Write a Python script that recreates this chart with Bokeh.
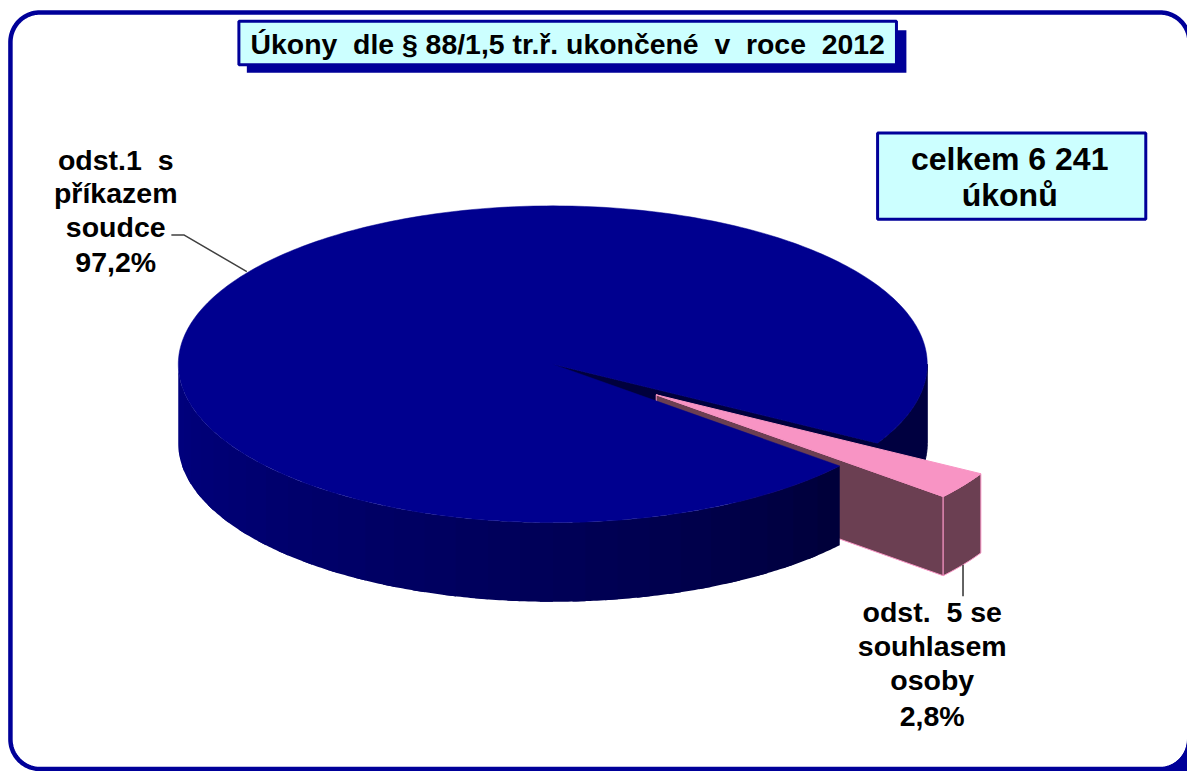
import numpy as np
from bokeh.plotting import figure
from bokeh.models import Range1d
from bokeh.core.properties import value
from bokeh.embed import file_html
from bokeh.resources import INLINE

# data
categories = ["odst.1 s příkazem soudce", "odst. 5 se souhlasem osoby"]
shares = [97.2, 2.8]
label_1 = ["odst.1 \u00a0s", "příkazem", "soudce", "97,2%"]
label_2 = ["odst. \u00a05 se", "souhlasem", "osoby", "2,8%"]
title_text = "Úkony \u00a0dle § 88/1,5 tr.ř. ukončené \u00a0v \u00a0roce \u00a02012"
total_lines = ["celkem 6 241", "úkonů"]

# layout / style
CX, CY, RX, RY, DEPTH = 556, 367.5, 377, 160, 80
START = 29.9          # small slice starts this many degrees clockwise from east
EXPLODE = 0.337
NAVY, TOP, BOX = "#000099", "#00008f", "#ccffff"
PINK, PINK_DARK, FONT = "#f894c4", "#6b3f52", "Liberation Sans"

p = figure(width=1187, height=771, output_backend="svg", toolbar_location=None,
           x_range=Range1d(0, 1195), y_range=Range1d(779, 0),
           x_axis_location=None, y_axis_location=None, min_border=0,
           outline_line_color=None, background_fill_color="white", border_fill_color="white")
p.grid.visible = False


def arc(a0, a1, ox=0.0, oy=0.0, n=None):
    n = n or max(2, int(abs(a1 - a0) * 2))
    t = np.radians(np.linspace(a0, a1, n))
    return CX + ox + RX * np.cos(t), CY + oy + RY * np.sin(t)


def wall(xs, ys):
    return list(xs) + list(xs[::-1]), list(ys) + list(ys[::-1] + DEPTH)


sweep_small = 360 * shares[1] / sum(shares)
end_small = START + sweep_small
mid = np.radians(START + sweep_small / 2)
ox, oy = EXPLODE * RX * np.cos(mid), EXPLODE * RY * np.sin(mid)

# frame
r = 30
L, R, T, B = 10, 1197, 12, 776.5
fx, fy = [], []
for (ccx, ccy, a0, a1) in [(L + r, T + r, 180, 270), (R - r, T + r, 270, 360),
                           (R - r, B - r, 0, 90), (L + r, B - r, 90, 180)]:
    t = np.radians(np.linspace(a0, a1, 24))
    fx += list(ccx + r * np.cos(t))
    fy += list(ccy + r * np.sin(t))
fx.append(fx[0]); fy.append(fy[0])
p.line(fx, fy, line_color=NAVY, line_width=4.5)
t = np.radians(np.linspace(0, 90, 24))
p.patch(list(1165 + 30 * np.cos(t)) + [1165, 1195, 1195], list(746 + 30 * np.sin(t)) + [779, 779, 746],
        fill_color=NAVY, line_color=NAVY)

# far side of the blue slice
xs, ys = arc(0, START)
wx, wy = wall(xs, ys)
p.patch(wx, wy, fill_color="#000040", line_color="#000040")
x1, y1 = arc(START, START, n=2)
p.patch([CX, x1[0], x1[0], CX], [CY, y1[0], y1[0] + DEPTH, CY + DEPTH], fill_color="#00003c", line_color="#00003c")

# inner face of the small slice
xe, ye = arc(end_small, end_small, ox, oy, n=2)
p.patch([CX + ox, xe[0], xe[0], CX + ox], [CY + oy, ye[0], ye[0] + DEPTH, CY + oy + DEPTH],
        fill_color=PINK_DARK, line_color=PINK, line_width=1)

# shaded front wall of the blue slice (each band runs under the next, so no seams show)
edges = np.arange(end_small, 180 + 5, 5.0)
edges[-1] = 180
for a0, a1 in zip(edges[:-1], edges[1:]):
    f = (0.5 * (a0 + a1) - end_small) / (180 - end_small)
    shade = int(0x38 + (0x80 - 0x38) * f ** 0.8)
    col = f"#0000{shade:02x}"
    xs, ys = arc(a0, min(a1 + 2, 180))
    wx, wy = wall(xs, ys)
    p.patch(wx, wy, fill_color=col, line_color=None)

# top of the blue slice
xs, ys = arc(end_small, START + 360, n=360)
p.patch([CX] + list(xs), [CY] + list(ys), fill_color=TOP, line_color=TOP, line_width=0.5)

# small slice: outer wall and top
xs, ys = arc(START, end_small, ox, oy, n=12)
wx, wy = wall(xs, ys)
p.patch(wx, wy, fill_color=PINK_DARK, line_color=PINK, line_width=1)
p.patch([CX + ox] + list(xs), [CY + oy] + list(ys), fill_color=PINK, line_color=PINK, line_width=1)

# leader lines
p.line([172, 185, 248], [237, 237, 274], line_color="#404040", line_width=1.5)
p.line([969, 969], [570, 602], line_color="#303030", line_width=1.5)

# title box
p.quad(left=[248], right=[912], top=[30], bottom=[73], fill_color=NAVY, line_color=None)
p.quad(left=[240], right=[902], top=[21], bottom=[65], fill_color=BOX, line_color=NAVY, line_width=3)
p.text([571], [44], text=[title_text], text_font=value(FONT), text_font_style="bold",
       text_font_size="28.4px", text_align="center", text_baseline="middle", text_color="black")

# total box
p.quad(left=[883], right=[1153], top=[134], bottom=[221], fill_color=BOX, line_color=NAVY, line_width=3)
p.text([1016, 1016], [160, 197], text=total_lines, text_font=value(FONT), text_font_style="bold",
       text_font_size="32px", text_align="center", text_baseline="middle", text_color="black")

# slice labels
p.text([116, 116, 116, 116], [161, 195, 229, 264], text=label_1, text_font=value(FONT), text_font_style="bold",
       text_font_size="28.5px", text_align="center", text_baseline="middle", text_color="black")
p.text([938, 938, 938, 938], [618, 652, 687, 723], text=label_2, text_font=value(FONT), text_font_style="bold",
       text_font_size="28.5px", text_align="center", text_baseline="middle", text_color="black")

open("out.html", "w").write(file_html(p, INLINE))
